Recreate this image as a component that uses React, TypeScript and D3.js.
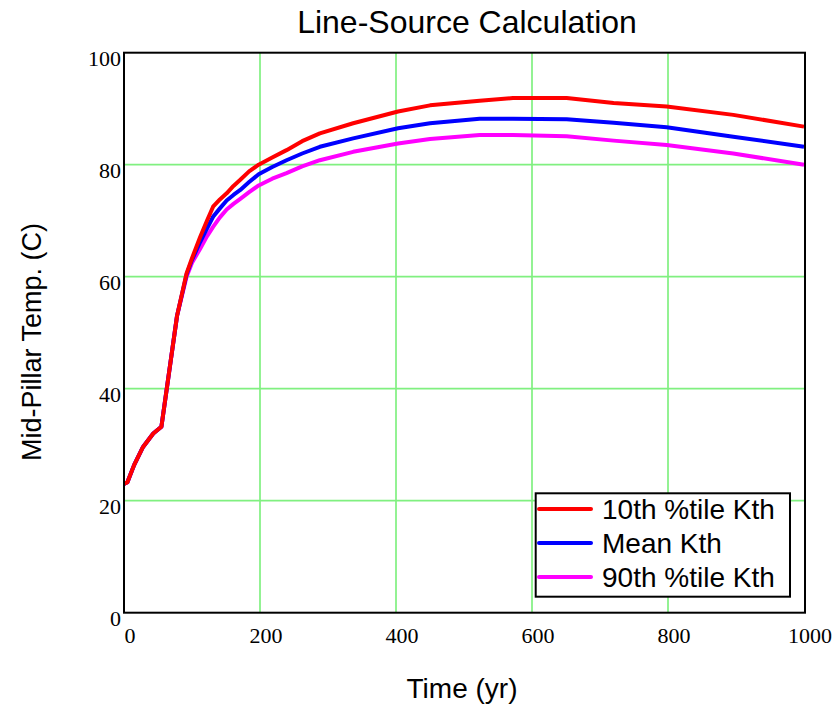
import React from "react";
import * as d3 from "d3";

const years = [0, 5, 15, 28, 43, 55, 78, 92, 100, 112, 122, 131, 141, 151, 161, 171, 184, 198, 218, 239, 262, 288, 337, 403, 450, 523, 572, 651, 720, 798, 896, 1000];
const tenth = [23, 23.3, 26.4, 29.6, 32, 33.2, 53, 60.6, 63.3, 67.1, 70.0, 72.5, 73.8, 74.9, 76.2, 77.3, 78.8, 80, 81.3, 82.6, 84.2, 85.6, 87.4, 89.5, 90.6, 91.4, 91.9, 91.9, 91.0, 90.4, 88.9, 86.8];
const meanK = [23, 23.3, 26.4, 29.6, 32, 33.2, 53, 60.4, 63.0, 66.2, 68.6, 70.7, 72.2, 73.6, 74.6, 75.5, 76.9, 78.3, 79.6, 80.8, 82.0, 83.2, 84.7, 86.5, 87.4, 88.2, 88.2, 88.1, 87.5, 86.7, 85.0, 83.2];
const ninetieth = [23, 23.3, 26.4, 29.6, 32, 33.2, 53, 60.0, 62.5, 65.0, 67.2, 68.9, 70.6, 72.0, 73.0, 73.9, 75.1, 76.3, 77.5, 78.5, 79.7, 80.8, 82.3, 83.8, 84.6, 85.3, 85.3, 85.1, 84.3, 83.5, 82.0, 80.0];
const xTicks = [0, 200, 400, 600, 800, 1000];
const yTicks = [0, 20, 40, 60, 80, 100];
const seriesNames = ["10th %tile Kth", "Mean Kth", "90th %tile Kth"];
const seriesColors = ["#ff0000", "#0000ff", "#ff00ff"];

export default function App() {
  const W = 838, H = 706;
  const L = 124, R = 805, T = 52.7, B = 612.7;
  const x = d3.scaleLinear().domain([0, 1000]).range([L, 804]);
  const y = d3.scaleLinear().domain([0, 100]).range([B, T]);
  const line = d3.line<[number, number]>().x(d => x(d[0])).y(d => y(d[1]));
  const allSeries = [tenth, meanK, ninetieth];
  const sans = "Liberation Sans, Arial, sans-serif";
  const serif = "Liberation Serif, Times New Roman, serif";
  const legY = [509, 543, 577];
  return (
    <svg width={W} height={H} style={{ position: "absolute", left: 0, top: 0, background: "#fff" }}>
      <rect x={0} y={0} width={W} height={H} fill="#fff" />
      <text x={467} y={33} textAnchor="middle" fontFamily={sans} fontSize={32}>Line-Source Calculation</text>
      {xTicks.filter(t => t > 0 && t < 1000).map(t => (
        <line key={"gx" + t} x1={x(t)} x2={x(t)} y1={T} y2={B} stroke="#80f080" strokeWidth={1.7} />
      ))}
      {yTicks.filter(t => t > 0 && t < 100).map(t => (
        <line key={"gy" + t} x1={L} x2={R} y1={y(t)} y2={y(t)} stroke="#80f080" strokeWidth={1.7} />
      ))}
      {allSeries.map((s, i) => (
        <path key={"s" + i} d={line(years.map((yr, j) => [yr, s[j]] as [number, number])) || ""}
          fill="none" stroke={seriesColors[i]} strokeWidth={4} strokeLinejoin="round" />
      )).reverse()}
      <rect x={L} y={T} width={R - L} height={B - T} fill="none" stroke="#000" strokeWidth={2} />
      {yTicks.map(t => (
        <text key={"yt" + t} x={121} y={y(t) + 13} textAnchor="end" fontFamily={serif} fontSize={22}>{t}</text>
      ))}
      {xTicks.map(t => (
        <text key={"xt" + t} x={x(t) + 6} y={643} textAnchor="middle" fontFamily={serif} fontSize={22}>{t}</text>
      ))}
      <text x={462} y={698} textAnchor="middle" fontFamily={sans} fontSize={28}>Time (yr)</text>
      <text transform="translate(41,342) rotate(-90)" textAnchor="middle" fontFamily={sans} fontSize={27}>Mid-Pillar Temp. (C)</text>
      <rect x={535.7} y={493.3} width={254.3} height={103.4} fill="#fff" stroke="#000" strokeWidth={2} />
      {seriesNames.map((n, i) => (
        <g key={"lg" + i}>
          <line x1={539} x2={591} y1={legY[i]} y2={legY[i]} stroke={seriesColors[i]} strokeWidth={4} strokeLinecap="round" />
          <text x={602} y={legY[i] + 10} fontFamily={sans} fontSize={28}>{n}</text>
        </g>
      ))}
    </svg>
  );
}
